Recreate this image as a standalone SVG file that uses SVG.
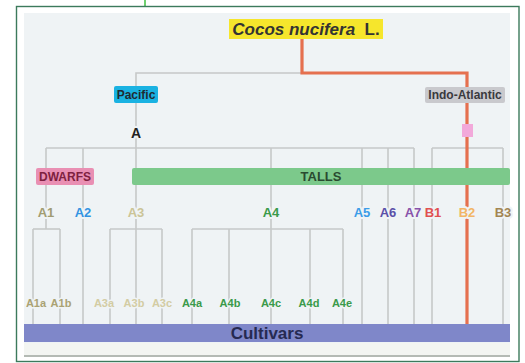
<svg xmlns="http://www.w3.org/2000/svg" width="525" height="363" viewBox="0 0 525 363">
<style>
.ln{stroke:#c6c8c8;stroke-width:1.6;fill:none}
.red{stroke:#e5704f;stroke-width:3.2;fill:none}
text{font-family:"Liberation Sans",Arial,sans-serif;font-weight:bold;text-anchor:middle}
.lab{font-size:13px;paint-order:stroke;stroke:#eff3f5;stroke-width:4px;stroke-linejoin:round}
.sub{font-size:11px;paint-order:stroke;stroke:#eff3f5;stroke-width:3px;stroke-linejoin:round}
</style>
<rect x="0" y="0" width="525" height="363" fill="#ffffff"/>
<line x1="145" y1="0" x2="145" y2="6" stroke="#3fc03f" stroke-width="1.5"/>
<rect x="16.5" y="6.5" width="502.5" height="355" fill="#ffffff" stroke="#3c7a5c" stroke-width="1.4"/>
<rect x="24" y="13" width="486" height="344" fill="#eff3f5"/>
<rect x="24" y="343" width="486" height="13" fill="#f3f5f2"/>
<line x1="24" y1="356" x2="510" y2="356" stroke="#b4bab4" stroke-width="2"/>

<g id="connectors">
  <polyline class="ln" points="302,73 136,73 136,324"/>
  <line class="ln" x1="46" y1="148" x2="414" y2="148"/>
  <line class="ln" x1="432" y1="148" x2="503" y2="148"/>
  <polyline class="ln" points="46,148 46,229"/>
  <line class="ln" x1="33" y1="229" x2="60" y2="229"/>
  <line class="ln" x1="33" y1="229" x2="33" y2="324"/>
  <line class="ln" x1="60" y1="229" x2="60" y2="324"/>
  <line class="ln" x1="83" y1="148" x2="83" y2="324"/>
  <line class="ln" x1="110" y1="229" x2="162" y2="229"/>
  <line class="ln" x1="110" y1="229" x2="110" y2="324"/>
  <line class="ln" x1="162" y1="229" x2="162" y2="324"/>
  <line class="ln" x1="271" y1="148" x2="271" y2="324"/>
  <line class="ln" x1="192" y1="229" x2="343" y2="229"/>
  <line class="ln" x1="192" y1="229" x2="192" y2="324"/>
  <line class="ln" x1="229" y1="229" x2="229" y2="324"/>
  <line class="ln" x1="310" y1="229" x2="310" y2="324"/>
  <line class="ln" x1="343" y1="229" x2="343" y2="324"/>
  <line class="ln" x1="362" y1="148" x2="362" y2="324"/>
  <line class="ln" x1="388" y1="148" x2="388" y2="324"/>
  <line class="ln" x1="414" y1="148" x2="414" y2="324"/>
  <line class="ln" x1="432" y1="148" x2="432" y2="324"/>
  <line class="ln" x1="503" y1="148" x2="503" y2="324"/>
  <polyline class="red" points="302,39 302,73 467,73 467,324"/>
</g>

<g id="root">
  <rect x="229" y="19" width="154" height="20" fill="#f6e62c"/>
  <text x="306" y="35" font-size="17" fill="#333333"><tspan font-style="italic">Cocos nucifera</tspan>&#160; L.</text>
</g>
<g id="pacific">
  <rect x="114" y="86" width="44" height="17" rx="2" fill="#1ab2e2"/>
  <text x="136" y="99" font-size="12" fill="#1f2a33">Pacific</text>
</g>
<g id="indo-atlantic">
  <rect x="425" y="87" width="80" height="16" rx="2" fill="#c9c9cd"/>
  <text x="465" y="99" font-size="12" fill="#3a3a3e">Indo-Atlantic</text>
</g>
<g id="A">
  <text class="lab" x="136" y="138" style="font-size:14px" fill="#222222">A</text>
</g>
<g id="B">
  <rect x="462" y="124" width="11" height="13" fill="#f2a9da"/>
</g>
<g id="dwarfs">
  <rect x="36" y="168" width="58" height="17" rx="2" fill="#e98fb3"/>
  <text x="65" y="181" font-size="12" fill="#7e2140">DWARFS</text>
</g>
<g id="talls">
  <rect x="132" y="168" width="378" height="17" rx="2" fill="#7cc98b"/>
  <text x="321" y="181" font-size="13" fill="#2a4a30">TALLS</text>
</g>
<g id="groups">
  <text class="lab" x="46" y="217" fill="#a19c72">A1</text>
  <text class="lab" x="83" y="217" fill="#3393e2">A2</text>
  <text class="lab" x="136" y="217" fill="#cbc497">A3</text>
  <text class="lab" x="271" y="217" fill="#3a9a4a">A4</text>
  <text class="lab" x="362" y="217" fill="#3c9ce8">A5</text>
  <text class="lab" x="388" y="217" fill="#5a4fa8">A6</text>
  <text class="lab" x="413" y="217" fill="#8852aa">A7</text>
  <text class="lab" x="433" y="217" fill="#e05050">B1</text>
  <text class="lab" x="467" y="217" fill="#f2b566">B2</text>
  <text class="lab" x="503" y="217" fill="#a38552">B3</text>
</g>
<g id="subgroups">
  <text class="sub" x="36" y="307" fill="#aaa273">A1a</text>
  <text class="sub" x="61" y="307" fill="#aaa273">A1b</text>
  <text class="sub" x="104" y="307" fill="#d3cca3">A3a</text>
  <text class="sub" x="134" y="307" fill="#d3cca3">A3b</text>
  <text class="sub" x="162" y="307" fill="#d3cca3">A3c</text>
  <text class="sub" x="192" y="307" fill="#3a9a4a">A4a</text>
  <text class="sub" x="230" y="307" fill="#3a9a4a">A4b</text>
  <text class="sub" x="271" y="307" fill="#3a9a4a">A4c</text>
  <text class="sub" x="309" y="307" fill="#3a9a4a">A4d</text>
  <text class="sub" x="342" y="307" fill="#3a9a4a">A4e</text>
</g>
<g id="cultivars">
  <rect x="24" y="324" width="486" height="18" fill="#7f87c9"/>
  <text x="267" y="339" font-size="17" fill="#262a52">Cultivars</text>
</g>
</svg>
